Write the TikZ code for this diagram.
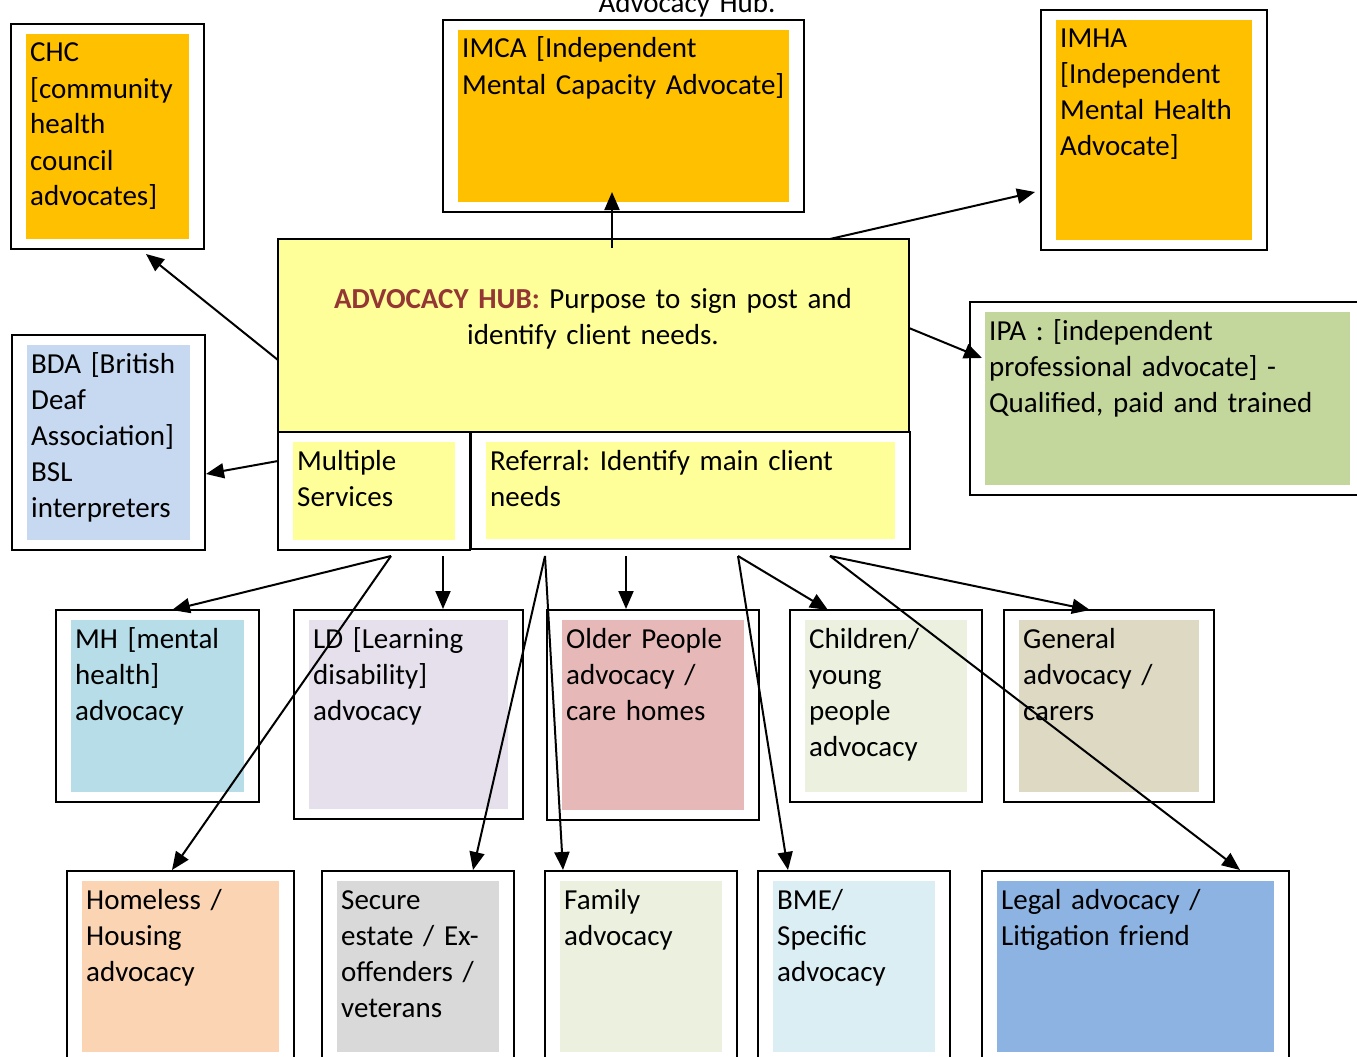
\documentclass[tikz,border=0pt]{standalone}
\usepackage{fontspec}
\setmainfont{Carlito}
\usetikzlibrary{arrows.meta,fit}
\definecolor{orangeA}{HTML}{FFC000}
\definecolor{hubyellow}{HTML}{FFFF99}
\definecolor{hubred}{HTML}{943634}
\definecolor{ipagreen}{HTML}{C3D69B}
\definecolor{bdablue}{HTML}{C6D9F1}
\definecolor{mhblue}{HTML}{B7DDE8}
\definecolor{ldlav}{HTML}{E5E0EC}
\definecolor{oldpink}{HTML}{E6B9B8}
\definecolor{lightgreen}{HTML}{EBF1DE}
\definecolor{genbeige}{HTML}{DDD9C3}
\definecolor{peach}{HTML}{FBD4B4}
\definecolor{greybox}{HTML}{D9D9D9}
\definecolor{bmeblue}{HTML}{DBEEF4}
\definecolor{legalblue}{HTML}{8DB3E2}
\tikzset{
  outerframe/.style={draw=black, line width=2pt, inner sep=0pt, fill=white},
  fillbox/.style={inner sep=0pt, draw=none},
  boxtext/.style={inner sep=0pt, text width=420pt, align=left, anchor=base west,
    font=\fontsize{29}{36}\selectfont\frenchspacing},
  conn/.style={line width=2pt, -{Triangle[length=18pt,width=15pt]}},
}
\newcommand\abox[7]{%
  \node[outerframe, fit={(#2,#3)(#4,#5)}] (#1) {};
  \node[fillbox, fill=#6, fit={(#2+15,#3+10)(#4-15,#5-10)}] (#1-in) {};
  \node[boxtext] (#1-txt) at (#2+19,#3+38) {#7};
}
\begin{document}
\begin{tikzpicture}[x=1pt,y=-1pt]
\useasboundingbox (0,0) rectangle (1357,1057);
\clip (0,0) rectangle (1357,1057);
\node[boxtext, text width=300pt, align=center, anchor=base] (title) at (687,13) {Advocacy Hub.};
% hub
\node[draw=black, line width=2pt, fill=hubyellow, inner sep=0pt, fit={(278,239)(909,432)}] (hub) {};
\node[boxtext, text width=640pt, align=center, anchor=base] (hubtxt) at (593,308)
  {\textcolor{hubred}{\textbf{ADVOCACY HUB:}} Purpose to sign post and\\identify client needs.};
\abox{multi}{278}{432}{470}{550}{hubyellow}{Multiple\\Services}
\abox{ref}{471}{432}{910}{549}{hubyellow}{Referral: Identify main client\\needs}
% top / side boxes
\abox{chc}{11}{24}{204}{249}{orangeA}{CHC\\{[}community\\health\\council\\advocates]}
\abox{imca}{443}{20}{804}{212}{orangeA}{IMCA [Independent\\Mental Capacity Advocate]}
\abox{imha}{1041}{10}{1267}{250}{orangeA}{IMHA\\{[}Independent\\Mental Health\\Advocate]}
\abox{ipa}{970}{302}{1365}{495}{ipagreen}{IPA : [independent\\professional advocate] -\\Qualified, paid and trained}
\abox{bda}{12}{335}{205}{550}{bdablue}{BDA [British\\Deaf\\Association]\\BSL\\interpreters}
% middle row
\abox{mh}{56}{610}{259}{802}{mhblue}{MH [mental\\health]\\advocacy}
\abox{ld}{294}{610}{523}{819}{ldlav}{LD [Learning\\disability]\\advocacy}
\abox{older}{547}{610}{759}{820}{oldpink}{Older People\\advocacy /\\care homes}
\abox{child}{790}{610}{982}{802}{lightgreen}{Children/\\young\\people\\advocacy}
\abox{gen}{1004}{610}{1214}{802}{genbeige}{General\\advocacy /\\carers}
% bottom row
\abox{home}{67}{871}{294}{1062}{peach}{Homeless /\\Housing\\advocacy}
\abox{sec}{322}{871}{514}{1062}{greybox}{Secure\\estate / Ex-\\offenders /\\veterans}
\abox{fam}{545}{871}{737}{1062}{lightgreen}{Family\\advocacy}
\abox{bme}{758}{871}{950}{1062}{bmeblue}{BME/\\Specific\\advocacy}
\abox{legal}{982}{871}{1289}{1062}{legalblue}{Legal advocacy /\\Litigation friend}
% connector end points
\coordinate (s-chc) at (278,360);  \coordinate (t-chc) at (146,254);
\coordinate (s-imca) at (612,248); \coordinate (t-imca) at (612,192);
\coordinate (s-imha) at (830,239); \coordinate (t-imha) at (1035,192);
\coordinate (s-ipa) at (909,328);  \coordinate (t-ipa) at (982,358);
\coordinate (s-bda) at (278,461);  \coordinate (t-bda) at (206,474);
\coordinate (s-m) at (391,556);
\coordinate (t-mh) at (172,610);   \coordinate (t-home) at (172,870);
\coordinate (s-ld) at (443,556);   \coordinate (t-ld) at (443,609);
\coordinate (s-a) at (545,556);
\coordinate (t-sec) at (473,870);  \coordinate (t-fam) at (563,870);
\coordinate (s-old) at (626,556);  \coordinate (t-old) at (626,609);
\coordinate (s-b) at (738,556);
\coordinate (t-child) at (828,610); \coordinate (t-bme) at (788,870);
\coordinate (s-c) at (830,556);
\coordinate (t-gen) at (1090,610); \coordinate (t-legal) at (1240,870);
% connectors
\draw[conn] (s-chc) -- (t-chc);
\draw[conn] (s-imca) -- (t-imca);
\draw[conn] (s-imha) -- (t-imha);
\draw[conn] (s-ipa) -- (t-ipa);
\draw[conn] (s-bda) -- (t-bda);
\draw[conn] (s-m) -- (t-mh);
\draw[conn] (s-m) -- (t-home);
\draw[conn] (s-ld) -- (t-ld);
\draw[conn] (s-a) -- (t-sec);
\draw[conn] (s-a) -- (t-fam);
\draw[conn] (s-old) -- (t-old);
\draw[conn] (s-b) -- (t-child);
\draw[conn] (s-b) -- (t-bme);
\draw[conn] (s-c) -- (t-gen);
\draw[conn] (s-c) -- (t-legal);
\end{tikzpicture}
\end{document}
